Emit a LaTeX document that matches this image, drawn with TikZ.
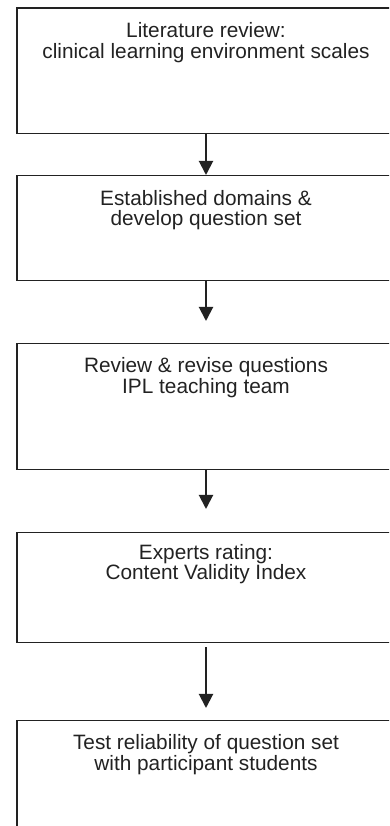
\documentclass[tikz,border=0pt]{standalone}
\usepackage{fontspec}
\setmainfont{Liberation Sans}
\usetikzlibrary{arrows.meta}
\definecolor{ink}{HTML}{222222}
\tikzset{
  stagebox/.style={draw=ink, line width=1.3pt, minimum width=378pt, anchor=north, inner sep=0pt},
  % base anchor sits on the last (second) line of each description
  stagetext/.style={text=ink, align=center, anchor=base, inner sep=0pt,
    font=\fontsize{20.8}{20.5}\selectfont},
  flowarrow/.style={draw=ink, line width=2pt, -{Triangle[width=14pt,length=14pt]}}
}
\begin{document}
\begin{tikzpicture}[x=1pt,y=1pt]
\useasboundingbox (0,0) rectangle (389,826);
\clip (0,0) rectangle (389,826);

% process stages
\node[stagebox, minimum height=125.5pt] (b1) at (206,818.5) {};
\node[stagebox, minimum height=105pt]   (b2) at (206,651) {};
\node[stagebox, minimum height=126pt]   (b3) at (206,483) {};
\node[stagebox, minimum height=110pt]   (b4) at (206,294) {};
\node[stagebox, minimum height=130pt]   (b5) at (206,106) {};

% stage descriptions
\node[stagetext] (t1) at ([yshift=-51pt]b1.north) {Literature review:\\clinical learning environment scales};
\node[stagetext] (t2) at ([yshift=-51pt]b2.north) {Established domains \&\\develop question set};
\node[stagetext] (t3) at ([yshift=-50.5pt]b3.north) {Review \& revise questions\\IPL teaching team};
\node[stagetext] (t4) at ([yshift=-48pt]b4.north) {Experts rating:\\Content Validity Index};
\node[stagetext] (t5) at ([yshift=-50.5pt]b5.north) {Test reliability of question set\\with participant students};

% flow between stages
\draw[flowarrow] (b1.south) -- (b2.north);
\draw[flowarrow, shorten >=22pt] (b2.south) -- (b3.north);
\draw[flowarrow, shorten >=23pt] (b3.south) -- (b4.north);
\draw[flowarrow, shorten <=4pt, shorten >=12pt] (b4.south) -- (b5.north);
\end{tikzpicture}
\end{document}
